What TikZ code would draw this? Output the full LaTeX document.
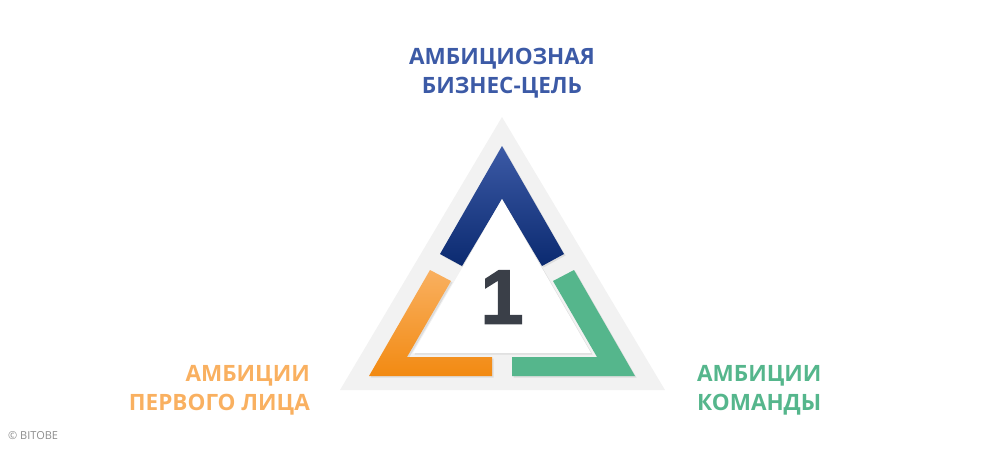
\documentclass[tikz,border=0pt]{standalone}
\usepackage{fontspec}
\setmainfont{Open Sans}
\newfontfamily\numfont[FakeBold=2]{Liberation Sans Bold}
\usetikzlibrary{shadows}

\definecolor{bgrey}{HTML}{F2F2F2}
\definecolor{goalblue}{HTML}{3C5AA6}
\definecolor{goalbluedark}{HTML}{0B2A70}
\definecolor{leadorange}{HTML}{F9B060}
\definecolor{leadorangedark}{HTML}{F28A12}
\definecolor{teamgreen}{HTML}{55B68C}
\definecolor{numgrey}{HTML}{3A3F48}

\tikzset{
    label/.style={font=\fontsize{22.5}{29}\selectfont\bfseries, inner sep=0pt},
    part/.style={drop shadow={opacity=0.18, shadow xshift=1.5pt, shadow yshift=-1.5pt}}
}

\begin{document}
\begin{tikzpicture}[x=1pt, y=-1pt]
            \useasboundingbox (0,0) rectangle (1001,464);

            % grey frame
            \fill[bgrey] (502,117) -- (340,390) -- (665,390) -- cycle;

            % three ambitions
            \shade[part, top color=goalblue, bottom color=goalbluedark]
                (502,146) -- (440,254) -- (462,266) -- (502,199) -- (542,266) -- (564,254) -- cycle;
            \shade[part, top color=leadorange, bottom color=leadorangedark]
                (369,376) -- (430,270) -- (451,281) -- (407,357) -- (492,357) -- (492,376) -- cycle;
            \fill[part, teamgreen]
                (635,376) -- (574,270) -- (553,281) -- (597,357) -- (512,357) -- (512,376) -- cycle;

            % white core
            \fill[part, white] (502,199) -- (413,353) -- (591,353) -- cycle;
            \node[font=\fontsize{77}{77}\selectfont\numfont, text=numgrey] (num) at (502,297) {1};

            \node[label, text=goalblue, align=center] (goal) at (502,73) {АМБИЦИОЗНАЯ\\БИЗНЕС-ЦЕЛЬ};
            \node[label, text=leadorange, align=right, anchor=east] (lead) at (310,390) {АМБИЦИИ\\ПЕРВОГО ЛИЦА};
            \node[label, text=teamgreen, align=left, anchor=west] (team) at (697,390) {АМБИЦИИ\\КОМАНДЫ};

            \node[font=\fontsize{11}{11}\selectfont, text=black!45, anchor=west, inner sep=0pt] (copy) at (8,436) {© BITOBE};
\end{tikzpicture}
\end{document}
